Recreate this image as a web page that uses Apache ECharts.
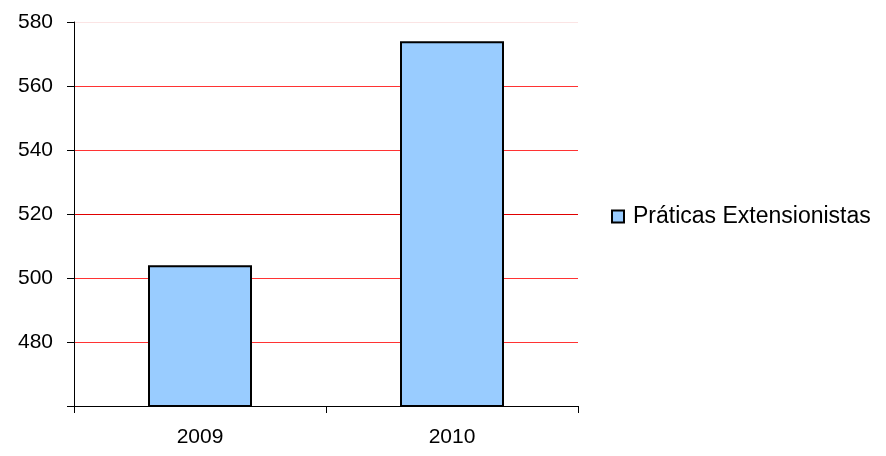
<!DOCTYPE html>
<html><head><meta charset="utf-8">
<script src="https://cdn.jsdelivr.net/npm/echarts@6/dist/echarts.min.js"></script>
<style>html,body{margin:0;padding:0;background:#fff}#c{width:886px;height:456px}</style>
</head><body><div id="c"></div>
<script>
const categories = ['2009', '2010'];
const seriesName = 'Práticas Extensionistas';
const values = [504, 574];
const yMin = 460, yMax = 580, yStep = 20;

const FONT = 'Liberation Sans, Arial, sans-serif';
const chart = echarts.init(document.getElementById('c'), null, {renderer: 'canvas'});
chart.setOption({
  animation: false,
  backgroundColor: '#fff',
  textStyle: {fontFamily: FONT},
  grid: {left: 74, right: 308, top: 22, bottom: 50, containLabel: false},
  legend: {
    data: [seriesName], left: 611, top: 205, orient: 'vertical', padding: 0,
    icon: 'rect', itemWidth: 12, itemHeight: 12, itemGap: 8,
    textStyle: {fontSize: 23, color: '#000', fontFamily: FONT, padding: [0,0,0,4]}
  },
  xAxis: {
    type: 'category', data: categories,
    axisLine: {show: true, lineStyle: {color: '#000', width: 1}},
    axisTick: {show: true, length: 7, alignWithLabel: false, lineStyle: {color: '#000'}},
    axisLabel: {fontSize: 21, color: '#000', margin: 21, fontFamily: FONT}
  },
  yAxis: {
    type: 'value', min: yMin, max: yMax, interval: yStep,
    axisLine: {show: true, lineStyle: {color: '#000', width: 1}},
    axisTick: {show: true, length: 7, lineStyle: {color: '#000'}},
    axisLabel: {fontSize: 21, color: '#000', margin: 21, fontFamily: FONT,
      formatter: v => v === yMin ? '' : String(v)},
    splitLine: {show: true, lineStyle: {color: ['#000', '#ff3333', '#ff3333', '#e00000', '#ff3333', '#ff3333', '#fbe4e4'], width: 1}}
  },
  series: [{
    name: seriesName, type: 'bar', data: values, barWidth: 104,
    itemStyle: {color: '#99ccff', borderColor: '#000', borderWidth: 2}
  }]
});
</script></body></html>
